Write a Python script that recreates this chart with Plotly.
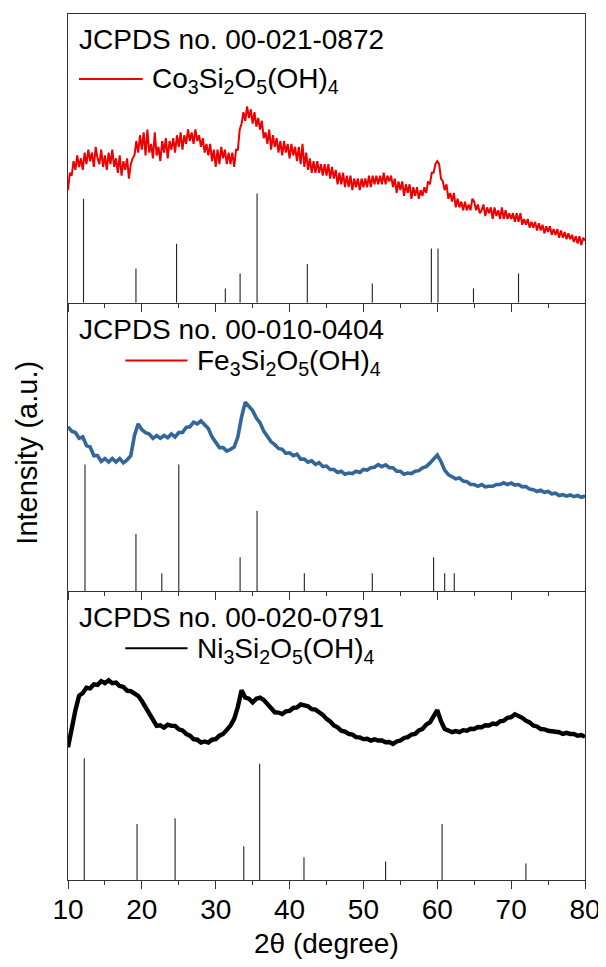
import plotly.graph_objects as go

# ---------------- data ----------------
# 2-theta sampling grids (degree)
two_theta = [10 + 0.5 * i for i in range(141)]        # 0.5 degree steps
two_theta_fine = [10 + 0.25 * i for i in range(281)]  # 0.25 degree steps

# Co3Si2O5(OH)4 pattern (top panel, arbitrary units 0-100), 0.25 degree steps
co_intensity = [
    39, 45, 44, 49,   46, 51, 47, 50,   46, 52, 48, 53,   49, 52, 47, 54,
    50, 48, 53, 47,   51, 46, 52, 48,   53, 47, 50, 45,   51, 44, 49, 46,
    50, 43, 48, 50,   51, 56, 52, 58,   53, 59, 51, 60,   52, 55, 50, 59,
    51, 54, 49, 56,   52, 57, 50, 56,   53, 57, 52, 58,   54, 59, 53, 58,
    55, 60, 56, 59,   55, 60, 56, 58,   54, 57, 52, 55,   51, 55, 49, 53,
    47, 53, 48, 54,   50, 53, 48, 52,   48, 52, 47, 53,   53, 60, 62, 66,
    63, 68, 64, 67,   62, 66, 61, 64,   60, 63, 57, 59,   55, 60, 53, 58,
    54, 57, 52, 56,   51, 56, 52, 55,   50, 55, 51, 54,   49, 54, 48, 55,
    47, 52, 46, 50,   45, 49, 45, 49,   45, 48, 44, 48,   44, 48, 43, 47,
    43, 46, 41, 45,   41, 45, 40, 44,   40, 44, 39, 43,   40, 43, 39, 43,
    40, 43, 40, 44,   40, 44, 41, 44,   41, 44, 41, 45,   41, 44, 42, 44,
    40, 43, 38, 42,   39, 42, 37, 41,   38, 41, 36, 40,   37, 40, 36, 39,
    37, 40, 38, 42,   41, 45, 45, 48,   49, 48, 43, 42,   39, 41, 36, 38,
    35, 38, 33, 36,   33, 35, 32, 35,   32, 34, 32, 36,   35, 32, 34, 31,
    32, 34, 30, 33,   31, 33, 29, 33,   30, 32, 29, 33,   29, 32, 29, 31,
    29, 31, 28, 31,   28, 31, 27, 29,   27, 29, 26, 28,   26, 28, 25, 27.5,
    25, 27, 24, 26.5, 24.5, 26.5, 23.5, 25.5, 23.5, 25.5, 22.5, 25,
    22.5, 24.5, 22, 24, 22, 23.5, 21, 23, 20.5, 23, 20, 22.5,
    21.5,
]

# Fe3Si2O5(OH)4 pattern (middle panel), 0.5 degree steps
fe_intensity = [
    57, 55.5, 55, 53, 53.5, 50.5, 50, 47, 47, 45,
    46, 44.8, 46, 44.8, 46, 44.5, 45.5, 47, 54, 58,
    56, 55, 54.5, 53, 54, 53, 54, 53.2, 54.5, 53.5,
    55, 55, 56.8, 57, 58.6, 58, 59, 57.5, 56.4, 53.5,
    51.5, 49.8, 49.8, 48.6, 49.2, 50, 53.5, 60.4, 65.5, 64,
    62.6, 60, 58.4, 55.5, 53.8, 51.8, 50.8, 49.5, 49.2, 47.8,
    48, 47, 47.5, 45.8, 45.8, 44.7, 45.2, 44, 44.6, 43.2,
    43.4, 42.2, 42.2, 41.2, 41.6, 40.6, 41, 40.8, 41.6, 41.2,
    42.2, 42, 42.8, 43, 43.9, 43.2, 43.8, 42.8, 42.8, 41.6,
    41.6, 40.6, 41, 40.8, 41.6, 41.8, 42.8, 43.2, 44.4, 45.8,
    47.2, 45, 42, 40.4, 39.8, 39, 39.3, 38.2, 38, 37,
    37, 36.4, 37, 36.2, 36.4, 36.4, 37, 37, 37.6, 37,
    37.5, 36.8, 37, 36.2, 36.3, 35.4, 35.2, 34.6, 35, 34.3,
    34.6, 33.8, 34, 33.2, 33.5, 33, 33.4, 32.8, 33.2, 32.6,
    33,
]

# Ni3Si2O5(OH)4 pattern (bottom panel), 0.5 degree steps
ni_intensity = [
    46, 53.5, 58.8, 63.8, 64.8, 66.6, 66.4, 67.8, 67.6, 68.9,
    68.2, 69.2, 68.2, 68.4, 67.2, 66.9, 65.6, 65.4, 64.4, 63.8,
    62, 60, 57.4, 55.6, 53.4, 53.6, 52.8, 53.8, 53.4, 53.4,
    52.2, 51.8, 50.6, 50, 48.8, 48.6, 47.6, 48, 47.6, 48.6,
    48.8, 50, 50.6, 52, 53.5, 55.8, 60, 65.7, 63.2, 62.8,
    61.5, 62.8, 63.2, 62.4, 60.9, 59.8, 58.1, 58, 57.5, 58.4,
    58.6, 59.6, 59.8, 60.8, 60.4, 60.2, 59.2, 59, 58.1, 57.2,
    55.8, 54.9, 53.5, 52.9, 51.7, 51.4, 50.6, 50.4, 49.5, 49.4,
    48.8, 48.9, 48.3, 48.7, 48.3, 48.3, 47.7, 47.8, 47.1, 48,
    48.3, 49.2, 49.5, 50.4, 50.6, 51.8, 52.3, 53.8, 54.6, 56.8,
    58.8, 55, 52.3, 51.8, 51.2, 51.6, 51.2, 51.9, 51.7, 52.4,
    52.3, 53, 52.9, 53.6, 53.5, 54.2, 54, 55, 55.2, 56.2,
    56.4, 57.4, 56.9, 56.2, 55.2, 54.6, 53.5, 53.2, 52.3, 52.2,
    51.7, 51.6, 51.2, 51.2, 50.6, 51, 50.6, 50.6, 50, 50.2,
    49.6,
]

# Reference stick patterns (position in degree, relative height)
co_ref_pos = [12.1, 19.2, 24.7, 31.3, 33.3, 35.6, 42.4, 51.2, 59.2, 60.1, 64.9, 71.0]
co_ref_h   = [36, 11.8, 20.4, 4.9, 10.1, 37.8, 13.4, 6.6, 18.75, 18.75, 4.9, 10.1]

fe_ref_pos = [12.3, 19.2, 22.7, 25.0, 33.3, 35.6, 42.0, 51.2, 59.5, 61.0, 62.3]
fe_ref_h   = [43.9, 19.9, 6.25, 43.9, 11.8, 27.9, 6.25, 6.25, 11.8, 6.25, 6.25]

ni_ref_pos = [12.2, 19.35, 24.5, 33.8, 35.95, 41.95, 53.0, 60.65, 72.0]
ni_ref_h   = [42.2, 19.4, 21.4, 11.7, 40.3, 7.9, 6.4, 19.4, 5.7]

panel_titles = ["JCPDS no. 00-021-0872", "JCPDS no. 00-010-0404", "JCPDS no. 00-020-0791"]
sample_names = [
    "Co<sub>3</sub>Si<sub>2</sub>O<sub>5</sub>(OH)<sub>4</sub>",
    "Fe<sub>3</sub>Si<sub>2</sub>O<sub>5</sub>(OH)<sub>4</sub>",
    "Ni<sub>3</sub>Si<sub>2</sub>O<sub>5</sub>(OH)<sub>4</sub>",
]
x_ticks = [10, 20, 30, 40, 50, 60, 70, 80]

# ---------------- layout helpers ----------------
# the page body has an 8 px margin, so the figure is drawn 8 px smaller / shifted
OFF = 8
W, H = 598, 951
L, R, T, B = 68 - OFF, 587 - OFF, 13 - OFF, 880 - OFF
def px_x(page_px):
    return (page_px - OFF - L) / (R - L)
def px_y(page_py):
    return (B - (page_py - OFF)) / (B - T)

FONT = "Liberation Sans, Arial, sans-serif"
RED = "#EE0000"
BLUE = "#336699"
BLACK = "#000000"
FRAME = "#333333"

def sticks(pos, h):
    xs, ys = [], []
    for p, v in zip(pos, h):
        xs += [p, p, None]
        ys += [0, v, None]
    return xs, ys

fig = go.Figure()

panels = [
    (two_theta_fine, co_intensity, RED, 2.0, co_ref_pos, co_ref_h, "x3", "y3"),
    (two_theta, fe_intensity, BLUE, 3.6, fe_ref_pos, fe_ref_h, "x2", "y2"),
    (two_theta, ni_intensity, BLACK, 4.4, ni_ref_pos, ni_ref_h, "x", "y"),
]
for xs_, inten, col, lw, rp, rh, xa, ya in panels:
    sx, sy = sticks(rp, rh)
    fig.add_trace(go.Scatter(x=sx, y=sy, mode="lines", xaxis=xa, yaxis=ya,
                             line=dict(color="#222222", width=1.1),
                             showlegend=False, hoverinfo="skip"))
    fig.add_trace(go.Scatter(x=xs_, y=inten, mode="lines", xaxis=xa, yaxis=ya,
                             line=dict(color=col, width=lw),
                             showlegend=False))

common_x = dict(range=[10, 80], tickvals=x_ticks, ticks="outside", ticklen=8,
                tickwidth=1.2, tickcolor=FRAME, showline=True, linecolor=FRAME,
                linewidth=1.3, showgrid=False, zeroline=False,
                minor=dict(ticks="outside", ticklen=4, tickwidth=1.2,
                           tickcolor=FRAME, dtick=5, tick0=5, showgrid=False))
common_y = dict(range=[0, 100], showticklabels=False, ticks="", showline=True,
                linecolor=FRAME, linewidth=1.3, mirror=True, showgrid=False,
                zeroline=False)

fig.update_layout(
    width=W, height=H,
    margin=dict(l=L, r=W - R, t=T, b=H - B),
    paper_bgcolor="white", plot_bgcolor="white",
    font=dict(family=FONT, size=28, color="black"),
    xaxis=dict(**common_x, anchor="y", showticklabels=True, ticklabelstandoff=-4,
               tickfont=dict(family=FONT, size=28, color="black")),
    xaxis2=dict(**common_x, anchor="y2", matches="x", showticklabels=False),
    xaxis3=dict(**common_x, anchor="y3", matches="x", showticklabels=False,
                mirror=True),
    yaxis=dict(**common_y, domain=[0, 1 / 3]),
    yaxis2=dict(**common_y, domain=[1 / 3, 2 / 3]),
    yaxis3=dict(**common_y, domain=[2 / 3, 1]),
    showlegend=False,
)

# axis titles
fig.add_annotation(text="Intensity (a.u.)", xref="paper", yref="paper",
                   x=px_x(27), y=px_y(452), textangle=-90, showarrow=False,
                   xanchor="center", yanchor="middle",
                   font=dict(family=FONT, size=29, color="black"))
fig.add_annotation(text="2θ (degree)", xref="paper", yref="paper",
                   x=px_x(327), y=px_y(944), showarrow=False,
                   xanchor="center", yanchor="middle",
                   font=dict(family=FONT, size=28, color="black"))

# panel texts and legend-like keys (page pixel positions)
title_y = [39, 329, 617.5]
key_y = [78, 360, 648]
key_x0 = [79, 125.5, 125.5]
key_x1 = [143, 188, 188]
text_x = [150, 195, 195]
key_col = [RED, RED, BLACK]
for i in range(3):
    fig.add_annotation(text=panel_titles[i], xref="paper", yref="paper",
                       x=px_x(77), y=px_y(title_y[i]), showarrow=False,
                       xanchor="left", yanchor="middle",
                       font=dict(family=FONT, size=28, color="black"))
    fig.add_shape(type="line", xref="paper", yref="paper",
                  x0=px_x(key_x0[i]), x1=px_x(key_x1[i]),
                  y0=px_y(key_y[i]), y1=px_y(key_y[i]),
                  line=dict(color=key_col[i], width=2))
    fig.add_annotation(text=sample_names[i], xref="paper", yref="paper",
                       x=px_x(text_x[i]), y=px_y(key_y[i] + 2), showarrow=False,
                       xanchor="left", yanchor="middle",
                       font=dict(family=FONT, size=28, color="black"))

fig.write_html("out.html")
